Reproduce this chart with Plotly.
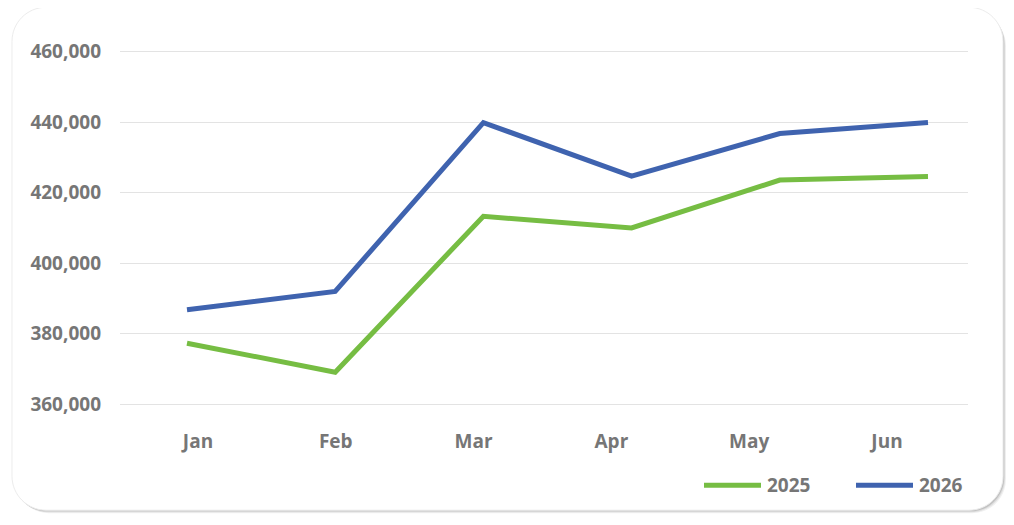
import plotly.graph_objects as go

months = ["Jan", "Feb", "Mar", "Apr", "May", "Jun"]
sales_2025 = [377300, 369100, 413300, 410000, 423600, 424600]
sales_2026 = [386800, 392000, 439900, 424700, 436800, 439900]
series_names = ["2025", "2026"]
series_colors = ["#76BD43", "#3F63AF"]
y_ticks = [360000, 380000, 400000, 420000, 440000, 460000]

# the page puts the plot 8px in from the top-left corner
OFF = 8
W, H = 1014 - OFF, 525 - OFF
PAD = 1.8  # a little room so the end gridlines show
L, R = 120 - OFF, 1014 - 968
T, B = 51.5 - OFF - PAD, 525 - 404 - PAD
pw, ph = W - L - R, H - T - B


def px(x):
    return (x - OFF - L) / pw


def py(y):
    return (H - B - (y - OFF)) / ph


def rounded_rect(x0, y0, x1, y1, r):
    k = 0.5523 * r
    pts = [
        ("M", [(x0 + r, y0)]),
        ("L", [(x1 - r, y0)]),
        ("C", [(x1 - r + k, y0), (x1, y0 + r - k), (x1, y0 + r)]),
        ("L", [(x1, y1 - r)]),
        ("C", [(x1, y1 - r + k), (x1 - r + k, y1), (x1 - r, y1)]),
        ("L", [(x0 + r, y1)]),
        ("C", [(x0 + r - k, y1), (x0, y1 - r + k), (x0, y1 - r)]),
        ("L", [(x0, y0 + r)]),
        ("C", [(x0, y0 + r - k), (x0 + r - k, y0), (x0 + r, y0)]),
    ]
    out = ""
    for cmd, ps in pts:
        out += cmd + " ".join(f"{px(a):.5f},{py(b):.5f}" for a, b in ps) + " "
    return out + "Z"


fig = go.Figure()

for name, vals, col in zip(series_names, [sales_2025, sales_2026], series_colors):
    fig.add_trace(go.Scatter(
        x=list(range(len(months))), y=vals, mode="lines", name=name,
        line=dict(color=col, width=5), showlegend=False,
        hovertext=months, hoverinfo="text+y",
    ))

# invisible trace that carries the month labels axis
fig.add_trace(go.Scatter(
    x=months, y=sales_2025, xaxis="x2", mode="lines",
    line=dict(width=0), opacity=0, showlegend=False, hoverinfo="skip",
))

font_gray = "#767676"
tick_font = dict(family="Open Sans", size=19, color=font_gray, weight="bold")

shapes = []
# card shadow + card
for off, op in [(5, 0.06), (3.5, 0.08), (2, 0.12)]:
    shapes.append(dict(type="path", xref="paper", yref="paper", layer="below",
                       path=rounded_rect(12 + off * 0.6, 7 + off, 1003 + off * 0.6, 510 + off * 0.6, 34),
                       fillcolor=f"rgba(0,0,0,{op})", line=dict(width=0)))
shapes.append(dict(type="path", xref="paper", yref="paper", layer="below",
                   path=rounded_rect(12, 7, 1003, 510, 34),
                   fillcolor="white", line=dict(color="#ececec", width=1)))

# manual legend
legend_x = [704, 856]
annotations = []
for name, col, lx in zip(series_names, series_colors, legend_x):
    shapes.append(dict(type="line", xref="paper", yref="paper",
                       x0=px(lx), x1=px(lx + 57), y0=py(485), y1=py(485),
                       line=dict(color=col, width=5)))
    annotations.append(dict(xref="paper", yref="paper", x=px(lx + 61), y=py(485),
                            text=name, showarrow=False, xanchor="left", yanchor="middle",
                            font=tick_font))

fig.update_layout(
    width=W, height=H,
    margin=dict(l=L, r=R, t=T, b=B),
    paper_bgcolor="white",
    plot_bgcolor="rgba(0,0,0,0)",
    showlegend=False,
    shapes=shapes,
    annotations=annotations,
    xaxis=dict(range=[-0.452, 5.27], showticklabels=False, showgrid=False,
               zeroline=False, showline=False),
    xaxis2=dict(overlaying="x", side="bottom", type="category",
                range=[-0.566, 5.588], showgrid=False, zeroline=False, showline=False,
                tickfont=tick_font, ticklabelstandoff=22),
    yaxis=dict(range=[359500, 460500], tickvals=y_ticks, tickformat=",d",
               showgrid=True, gridcolor="#e3e3e3", gridwidth=1,
               zeroline=False, showline=False, tickfont=tick_font,
               ticklabelstandoff=18),
)

fig.write_html("out.html")
